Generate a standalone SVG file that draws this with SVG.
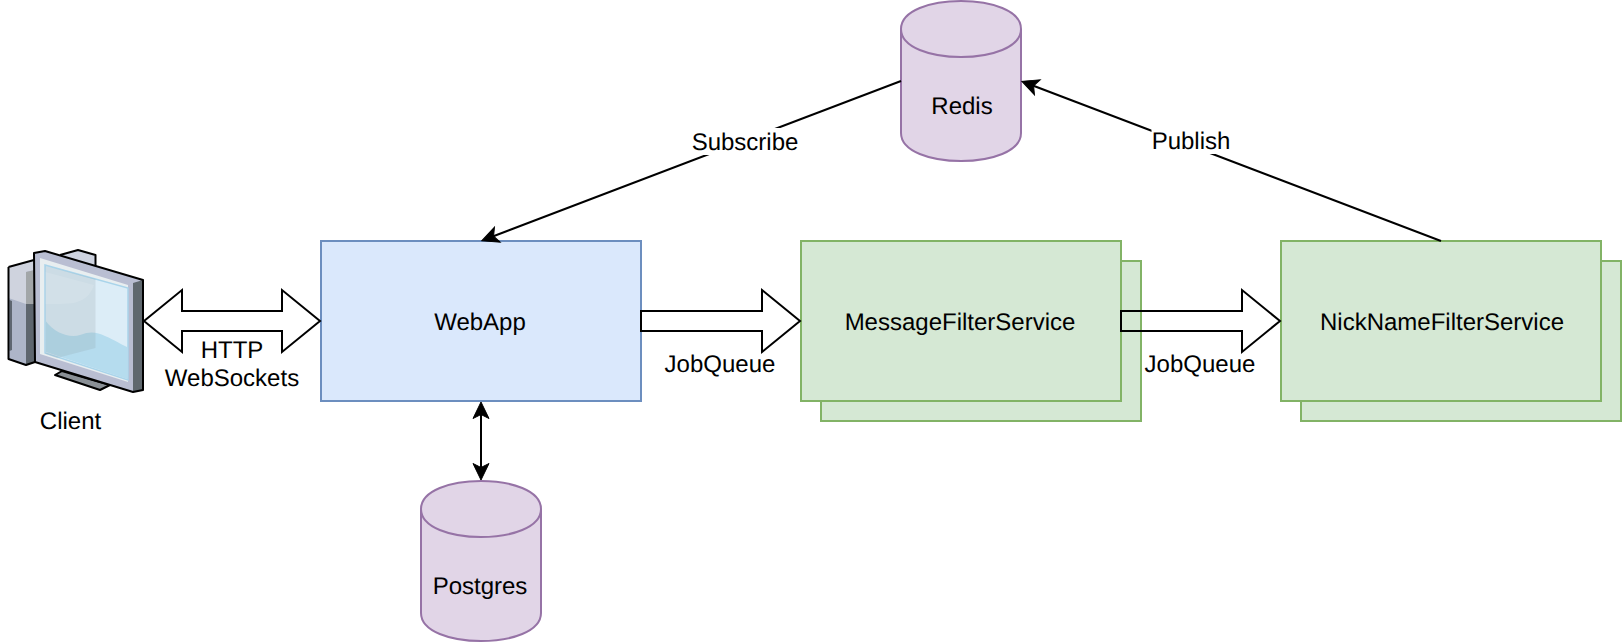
<svg xmlns="http://www.w3.org/2000/svg" width="1622" height="642" viewBox="0 0 1622 642">
<style>
text{font-family:"Liberation Sans",Arial,sans-serif;font-size:24px;fill:#000;text-anchor:middle;text-rendering:geometricPrecision}
.blue{fill:#dae8fc;stroke:#6c8ebf;stroke-width:2}
.green{fill:#d5e8d4;stroke:#82b366;stroke-width:2}
.purple{fill:#e1d5e7;stroke:#9673a6;stroke-width:2}
.edge{fill:none;stroke:#000;stroke-width:2}
.block{fill:none;stroke:#000;stroke-width:2;stroke-miterlimit:10}
.outline{fill:none;stroke:#000;stroke-width:2;stroke-linejoin:round}
</style>
<defs>
<marker id="classic" markerUnits="userSpaceOnUse" markerWidth="20" markerHeight="20" viewBox="0 0 20 20" refX="12" refY="10" orient="auto-start-reverse">
<path d="M18 10 L1.500 2 L5.500 10 L1.500 18 Z" fill="#000" stroke="#000" stroke-width="1"/>
</marker>
</defs>
<rect width="1622" height="642" fill="#fff"/>
<g id="client">
<path d="M8.500 267 L35 260 L35 362 L26 365 L8.500 359 Z" fill="#adb5c8"/>
<path d="M8.500 267 L35 260 L35 270 L26 272 L26 304 L8.500 298 Z" fill="#cfd3de"/>
<path d="M26 272 L35 270 L35 304 L26 304 Z" fill="#a2a6a8"/>
<path d="M26 304 L35 304 L35 362 L26 365 Z" fill="#5e666e"/>
<path d="M9.500 300 L12 301 L12 350 L9.500 351 Z" fill="#5e6670"/>
<path d="M8.500 267 L34 260 M8.500 267 L8.500 359 L26 365 L35 362" class="outline"/>
<path d="M60 255 L78 250 L95.500 255 L95.500 270 Z" fill="#ced3e0"/>
<path d="M60 255 L78 250 L95.500 255 L95.500 270" class="outline"/>
<path d="M55 375 L62 371 L110 385 L100 390 Z" fill="#8a9096" stroke="#000" stroke-width="2" stroke-linejoin="round"/>
<path d="M34 253 L45 251 L143 280 L143 390 L133 392 L35 362 Z" fill="#b9bed2"/>
<path d="M133 283 L143 280 L143 390 L133 392 Z" fill="#5f686e"/>
<path d="M40 258 L128 285 L128 382 L40 354 Z" fill="#e8eef0"/>
<path d="M45 265 L128 288 L128 380 L45 353 Z" fill="#dcedf7" stroke="#a9d4ea" stroke-width="1.500"/>
<path d="M45 320 C55 334 70 338 80 335 C90 331 97 332 105 336 C115 340 122 345 127 347 L127 379 L46 352 Z" fill="#b5dcee"/>
<path d="M45.500 266 L95.500 279 L95.500 348 L57 358 L45.500 354 Z" fill="#8a9aa0" fill-opacity="0.2"/>
<path d="M45.500 304 C60 304 72 304 77 302 C85 300 91 294 94 285 L45.500 272 Z" fill="#fff" fill-opacity="0.12"/>
<path d="M34 253 L45 251 L143 280 L143 390 L133 392 L35 362 Z" class="outline"/>
<text x="70.500" y="429">Client</text>
</g>
<g id="webapp">
<rect class="blue" x="321" y="241" width="320" height="160"/>
<text x="480" y="330">WebApp</text>
</g>
<g id="message-filter-service">
<rect class="green" x="821" y="261" width="320" height="160"/>
<rect class="green" x="801" y="241" width="320" height="160"/>
<text x="960" y="330">MessageFilterService</text>
</g>
<g id="nickname-filter-service">
<rect class="green" x="1301" y="261" width="320" height="160"/>
<rect class="green" x="1281" y="241" width="320" height="160"/>
<text x="1442" y="330">NickNameFilterService</text>
</g>
<g id="redis">
<path class="purple" d="M901 29 C901 -8.330 1021 -8.330 1021 29 L1021 133 C1021 170.330 901 170.330 901 133 Z"/>
<path class="purple" style="fill:none" d="M901 29 C901 66.330 1021 66.330 1021 29"/>
<text x="962" y="114">Redis</text>
</g>
<g id="postgres">
<path class="purple" d="M421 509 C421 471.670 541 471.670 541 509 L541 613 C541 650.330 421 650.330 421 613 Z"/>
<path class="purple" style="fill:none" d="M421 509 C421 546.330 541 546.330 541 509"/>
<text x="480" y="594">Postgres</text>
</g>
<g id="connectors">
<path class="block" d="M144 321 L182 290 L182 311 L282 311 L282 290 L320 321 L282 352 L282 331 L182 331 L182 352 Z"/>
<text x="232" y="358">HTTP</text>
<text x="232" y="386">WebSockets</text>
<path class="block" d="M641 311 L762 311 L762 290 L800 321 L762 352 L762 331 L641 331 Z"/>
<text x="720" y="372">JobQueue</text>
<path class="block" d="M1121 311 L1242 311 L1242 290 L1280 321 L1242 352 L1242 331 L1121 331 Z"/>
<text x="1200" y="372">JobQueue</text>
<path class="edge" d="M481 408 L481 474" marker-start="url(#classic)" marker-end="url(#classic)"/>
<path class="edge" d="M901 81 L487.500 238.500" marker-end="url(#classic)"/>
<rect x="691.500" y="128" width="107" height="27" fill="#fff"/>
<text x="745" y="150">Subscribe</text>
<path class="edge" d="M1441 241 L1027.500 83.500" marker-end="url(#classic)"/>
<rect x="1151.500" y="127" width="79" height="27" fill="#fff"/>
<text x="1191" y="149">Publish</text>
</g>
</svg>
